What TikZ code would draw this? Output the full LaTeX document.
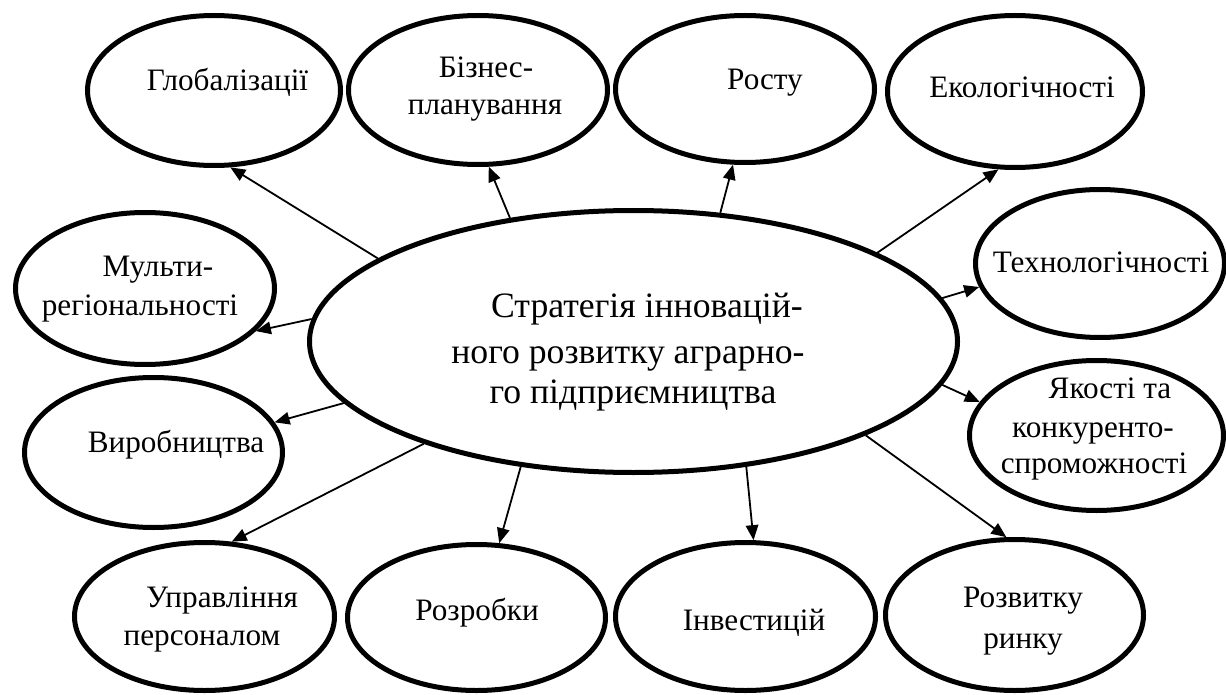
\documentclass[tikz,border=0pt]{standalone}
\usepackage{fontspec}
\setmainfont{Liberation Serif}
\usetikzlibrary{shapes.geometric,arrows.meta}
\begin{document}
\begin{tikzpicture}[x=1pt,y=-1pt,
  oval/.style={ellipse,draw=black,line width=5pt,inner sep=0pt,fill=white},
  lbl/.style={anchor=base,inner sep=0pt,font=\fontsize{31.2}{36}\selectfont},
  big/.style={anchor=base,inner sep=0pt,font=\fontsize{35.7}{43}\selectfont},
  link/.style={line width=1.8pt,-{Triangle[length=15pt,width=12.5pt]}}]
\useasboundingbox (0,0) rectangle (1226,695);

% outer ellipses
\node[oval,minimum width=253pt,minimum height=150pt] (glob) at (214,90.5) {};
\node[oval,minimum width=259pt,minimum height=149pt] (biz) at (478,90) {};
\node[oval,minimum width=259pt,minimum height=147pt] (rost) at (745,89) {};
\node[oval,minimum width=255pt,minimum height=152pt] (eko) at (1015,91.5) {};
\node[oval,minimum width=259pt,minimum height=152pt] (multi) at (145,288.5) {};
\node[oval,minimum width=258pt,minimum height=150pt] (vyrob) at (153.5,452.5) {};
\node[oval,minimum width=249pt,minimum height=148pt] (tekh) at (1100,263.5) {};
\node[oval,minimum width=254pt,minimum height=150pt] (yak) at (1096.5,435.5) {};
\node[oval,minimum width=260pt,minimum height=148pt] (upr) at (204.5,616.5) {};
\node[oval,minimum width=258pt,minimum height=146pt] (rozr) at (476.5,617.5) {};
\node[oval,minimum width=260pt,minimum height=148pt] (inv) at (745.5,616.5) {};
\node[oval,minimum width=258pt,minimum height=151pt] (rozv) at (1014.5,615) {};
% central ellipse
\node[oval,minimum width=648pt,minimum height=262pt] (c) at (633.5,341.5) {};

% labels
\node[lbl] (glob-t) at (227.5,91) {Глобалізації};
\node[lbl] (biz-t1) at (486,78) {Бізнес-};
\node[lbl] (biz-t2) at (485,115) {планування};
\node[lbl] (rost-t) at (765,90) {Росту};
\node[lbl] (eko-t) at (1022,98) {Екологічності};
\node[lbl] (multi-t1) at (158,276) {Мульти-};
\node[lbl] (multi-t2) at (140,315) {регіональності};
\node[lbl] (vyrob-t) at (176,452) {Виробництва};
\node[lbl] (tekh-t) at (1101,272) {Технологічності};
\node[lbl] (yak-t1) at (1110,398) {Якості та};
\node[lbl] (yak-t2) at (1093,437) {конкуренто-};
\node[lbl] (yak-t3) at (1094,473) {спроможності};
\node[lbl] (upr-t1) at (222,607) {Управління};
\node[lbl] (upr-t2) at (202,645) {персоналом};
\node[lbl] (rozr-t) at (477,620) {Розробки};
\node[lbl] (inv-t) at (754,630) {Інвестицій};
\node[lbl] (rozv-t1) at (1023,607) {Розвитку};
\node[lbl] (rozv-t2) at (1023,648) {ринку};
\node[big] (c-t1) at (647,317) {Стратегія інновацій-};
\node[big] (c-t2) at (628,363) {ного розвитку аграрно-};
\node[big] (c-t3) at (633,403) {го підприємництва};

% connectors
\draw[link] (c.162.2) -- (glob.-78.9);
\draw[link] (c.135.9) -- (biz.-82.9);
\draw[link] (c.56.1) -- (rost.-99.1);
\draw[link] (c.20.6) -- (eko.-102.9);
\draw[link] (c.8.0) -- (tekh.-169.2);
\draw[link] (c.-8.9) -- (yak.164.6);
\draw[link] (c.-22.5) -- (rozv.96.1);
\draw[link] (c.-48.7) -- (inv.84.5);
\draw[link] (c.-132.7) -- (rozr.73.1);
\draw[link] (c.-154.3) -- (upr.70.3);
\draw[link] (c.-168.9) -- (vyrob.14.6);
\draw[link] (c.176.9) -- (multi.-21.7);
\end{tikzpicture}
\end{document}
